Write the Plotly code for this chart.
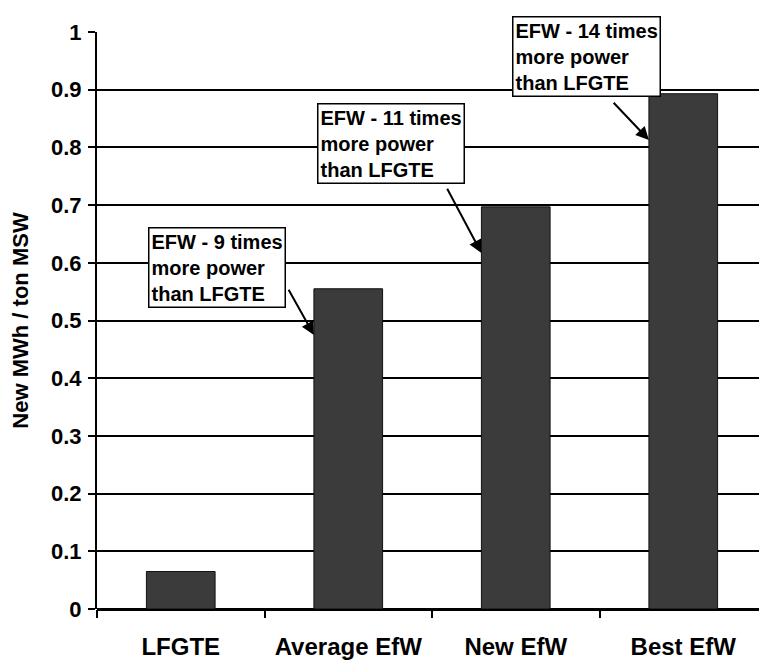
import plotly.graph_objects as go

categories = ["LFGTE", "Average EfW", "New EfW", "Best EfW"]
values = [0.065, 0.555, 0.697, 0.893]
y_ticks = [0, 0.1, 0.2, 0.3, 0.4, 0.5, 0.6, 0.7, 0.8, 0.9, 1]
y_tick_labels = ["0", "0.1", "0.2", "0.3", "0.4", "0.5", "0.6", "0.7", "0.8", "0.9", "1"]
callout_texts = [
    "EFW - 9 times<br>more power<br>than LFGTE",
    "EFW - 11 times<br>more power<br>than LFGTE",
    "EFW - 14 times<br>more power<br>than LFGTE",
]
callout_targets = [1, 2, 3]          # index of bar each callout points at
callout_box_pos = [(0.215, 0.592), (1.256, 0.807), (2.424, 0.958)]
callout_arrow_start = [(0.639, 0.556), (1.586, 0.731), (2.576, 0.880)]

FONT = "Liberation Sans, Arial, sans-serif"
BAR_W = 0.41

fig = go.Figure()
fig.add_trace(go.Bar(
    x=categories, y=values, width=BAR_W,
    marker=dict(color="#3b3b3b", line=dict(color="#111111", width=1)),
    showlegend=False,
))

for i, txt in enumerate(callout_texts):
    bx, by = callout_box_pos[i]
    fig.add_annotation(
        x=bx, y=by, xref="x", yref="y", text="<b>" + txt + "</b>",
        showarrow=False, align="left", xanchor="center", yanchor="middle",
        font=dict(family=FONT, size=20, color="black"),
        bgcolor="white", bordercolor="black", borderwidth=1.5, borderpad=2,
    )
    t = callout_targets[i]
    sx, sy = callout_arrow_start[i]
    fig.add_annotation(
        x=t - BAR_W / 2, y=values[t] - 0.08, xref="x", yref="y",
        ax=sx, ay=sy, axref="x", ayref="y", text="",
        showarrow=True, arrowhead=2, arrowsize=1.3, arrowwidth=2, arrowcolor="black",
    )

fig.update_layout(
    width=767, height=660,
    margin=dict(l=89, r=8, t=24, b=59),
    paper_bgcolor="white", plot_bgcolor="white",
    font=dict(family=FONT, color="black"),
    bargap=0.59,
)
fig.update_xaxes(
    type="category", range=[-0.5, 3.5], automargin=False,
    tickson="boundaries", ticks="outside", ticklen=8, tickwidth=1.5, tickcolor="black",
    tickfont=dict(family=FONT, size=24, color="black"),
    tickvals=categories, ticktext=["<b>" + c + "</b>" for c in categories],
    ticklabelstandoff=21,
    showline=False, showgrid=False, zeroline=False,
)
fig.update_yaxes(
    range=[0, 1], automargin=False,
    tickvals=y_ticks, ticktext=["<b>" + s + "</b>" for s in y_tick_labels],
    ticks="outside", ticklen=7, tickwidth=1.5, tickcolor="black",
    tickfont=dict(family=FONT, size=22, color="black"),
    ticklabelstandoff=2,
    showgrid=True, gridcolor="black", gridwidth=1.5,
    showline=True, linecolor="black", linewidth=2,
    zeroline=True, zerolinecolor="black", zerolinewidth=2.5,
    title=dict(text="<b>New MWh / ton MSW</b>", font=dict(family=FONT, size=22, color="black"), standoff=20),
)

fig.write_html("out.html")
